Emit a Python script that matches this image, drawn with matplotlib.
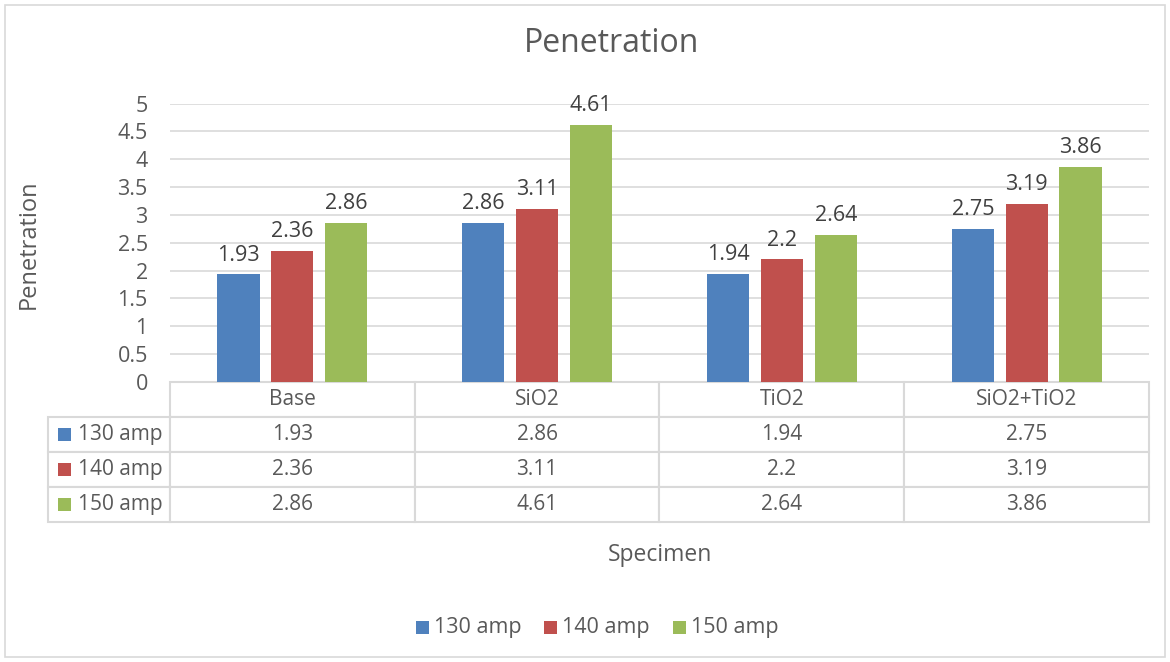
import numpy as np
import matplotlib.pyplot as plt
from matplotlib.patches import Rectangle

plt.rcParams['font.family'] = ['Liberation Sans Narrow', 'Open Sans', 'DejaVu Sans']

# Data
specimens = ["Base", "SiO2", "TiO2", "SiO2+TiO2"]
series = ["130 amp", "140 amp", "150 amp"]
amp130 = [1.93, 2.86, 1.94, 2.75]
amp140 = [2.36, 3.11, 2.2, 3.19]
amp150 = [2.86, 4.61, 2.64, 3.86]
values = [amp130, amp140, amp150]
colors = ["#4F81BD", "#C0504D", "#9BBB59"]
text_col = "#595959"
grid_col = "#D9D9D9"

W, H = 1170, 662
fig = plt.figure(figsize=(W / 100, H / 100), dpi=100)

# chart border
fig.patches.append(Rectangle((5 / W, 5 / H), 1160 / W, 652 / H, transform=fig.transFigure,
                             fill=False, edgecolor=grid_col, linewidth=1.2))

ax_l, ax_r, ax_t, ax_b = 170, 1149, 103.5, 382
ax = fig.add_axes([ax_l / W, (H - ax_b) / H, (ax_r - ax_l) / W, (ax_b - ax_t) / H])

x = np.arange(len(specimens))
bw = 0.172
step = 0.22
for i, (vals, c) in enumerate(zip(values, colors)):
    bars = ax.bar(x + (i - 1) * step, vals, width=bw, color=c, zorder=3)
    for b, v in zip(bars, vals):
        ax.text(b.get_x() + b.get_width() / 2, v + 0.16, f"{v:g}", ha="center", va="bottom",
                fontsize=15.5, color="#404040")

ax.set_xlim(-0.5, len(specimens) - 0.5)
ax.set_ylim(0, 5)
ax.set_yticks(np.arange(0, 5.01, 0.5))
ax.set_yticklabels([f"{t:g}" for t in np.arange(0, 5.01, 0.5)])
ax.tick_params(axis="y", length=0, labelsize=15.5, labelcolor=text_col, pad=16)
ax.set_xticks([])
ax.grid(axis="y", color=grid_col, linewidth=1.2, zorder=0)
for s in ax.spines.values():
    s.set_visible(False)

# data table
col_w = [122] + [245] * len(specimens)
cell_text = [[""] + [f"{v:g}" for v in vals] for vals in values]
tab_l, tab_t, tab_b = 48, 382, 522
tbl = ax.table(cellText=cell_text, colLabels=[""] + specimens,
               colWidths=[w / sum(col_w) for w in col_w], cellLoc="center",
               bbox=[(tab_l - ax_l) / (ax_r - ax_l), -(tab_b - ax_b) / (ax_b - ax_t),
                     (ax_r - tab_l) / (ax_r - ax_l), (tab_b - tab_t) / (ax_b - ax_t)])
tbl.auto_set_font_size(False)
tbl.set_fontsize(15)
for (r, c), cell in tbl.get_celld().items():
    cell.set_edgecolor(grid_col)
    cell.set_linewidth(1.5)
    cell.get_text().set_color(text_col)
    if r == 0 and c == 0:
        cell.visible_edges = ""
        cell.set_facecolor("none")

# row labels with swatches
row_h = (tab_b - tab_t) / 4
for i, (name, c) in enumerate(zip(series, colors)):
    yc = tab_t + row_h * (i + 1.5)
    fig.patches.append(Rectangle((58 / W, (H - yc - 6.5) / H), 13 / W, 13 / H,
                                 transform=fig.transFigure, facecolor=c, edgecolor="none"))
    fig.text(78 / W, (H - yc) / H, name, ha="left", va="center", fontsize=15, color=text_col)

# titles
fig.text(612 / W, (H - 43) / H, "Penetration", ha="center", va="center", fontsize=23, color=text_col)
fig.text(29 / W, (H - 244) / H, "Penetration", ha="center", va="center", rotation=90,
         fontsize=17, color=text_col)
fig.text(660 / W, (H - 555) / H, "Specimen", ha="center", va="center", fontsize=16.5, color=text_col)

# legend
leg_x = [416, 544, 673]
for lx, name, c in zip(leg_x, series, colors):
    fig.patches.append(Rectangle((lx / W, (H - 627 - 6.5) / H), 13 / W, 13 / H,
                                 transform=fig.transFigure, facecolor=c, edgecolor="none"))
    fig.text((lx + 18) / W, (H - 627) / H, name, ha="left", va="center", fontsize=15.5, color=text_col)

fig.savefig("out.png", dpi=100)
